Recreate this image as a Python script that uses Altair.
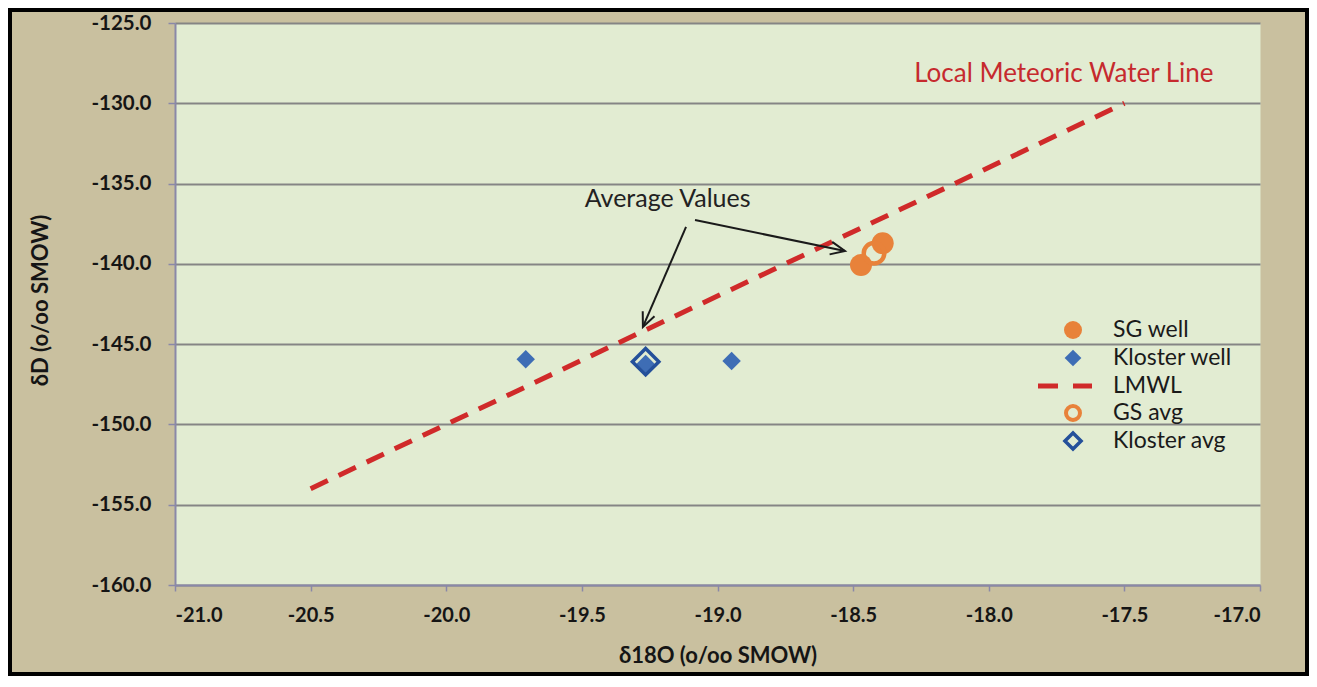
import math
import altair as alt
import pandas as pd

# ---------------- data ----------------
sg_x = [-18.471, -18.391]
sg_y = [-140.07, -138.72]
kl_x = [-19.707, -19.265, -18.948]
kl_y = [-145.94, -146.24, -146.05]
gs_avg_x = [-18.423]
gs_avg_y = [-139.34]
kl_avg_x = [-19.265]
kl_avg_y = [-146.09]
lmwl_x = [-20.5, -17.5]
lmwl_y = [-154.0, -130.0]

x_ticks = [-21.0, -20.5, -20.0, -19.5, -19.0, -18.5, -18.0, -17.5, -17.0]
y_ticks = [-160.0, -155.0, -150.0, -145.0, -140.0, -135.0, -130.0, -125.0]

legend_labels = ["SG well", "Kloster well", "LMWL", "GS avg", "Kloster avg"]

# annotation arrows (data coords): start -> tip
arr_x0 = [-19.116, -19.083]
arr_y0 = [-137.70, -137.27]
arr_x1 = [-19.275, -18.530]
arr_y1 = [-143.93, -139.20]
avg_text = "Average Values"
avg_text_x = [-19.184]
avg_text_y = [-135.96]
lmwl_text = "Local Meteoric Water Line"
lmwl_text_x = [-17.723]
lmwl_text_y = [-128.15]

# ---------------- layout / style ----------------
W, H = 1085, 562
PAD = {"left": 167, "top": 15, "right": 49, "bottom": 91}
FONT = "Lato"
ORANGE = "#E8823A"
BLUE = "#3E6DB5"
DBLUE = "#24509A"
RED = "#D02A2A"
XDOM = [-21, -17]
YDOM = [-160, -125]

xs = alt.Scale(domain=XDOM, nice=False, zero=False)
ys = alt.Scale(domain=YDOM, nice=False, zero=False)

HYPHEN = "replace(datum.label, '\u2212', '-')"

x_axis = alt.Axis(values=x_ticks, format=".1f", labelExpr=HYPHEN, grid=False,
                  title="δ18O (o/oo SMOW)",
                  labelFontSize=20, labelFontWeight="bold", labelColor="#151515",
                  labelPadding=14, tickSize=6, tickColor="#8a88a8", tickWidth=1.5,
                  domainColor="#8a88a8", domainWidth=2,
                  titleFontSize=22, titleFontWeight="bold", titleColor="#151515",
                  titleY=70, titleBaseline="middle")
y_axis = alt.Axis(values=y_ticks, format=".1f", labelExpr=HYPHEN, grid=True,
                  gridColor="#858585", gridWidth=2,
                  title="δD (o/oo SMOW)",
                  labelFontSize=20.5, labelFontWeight="bold", labelColor="#151515",
                  labelPadding=17, tickSize=7, tickColor="#8a88a8", tickWidth=1.5,
                  domainColor="#8a88a8", domainWidth=2,
                  titleFontSize=22, titleFontWeight="bold", titleColor="#151515",
                  titleX=-135, titleY=H / 2 - 4, titleAngle=270, titleAlign="center",
                  titleBaseline="middle")

px_per_x = W / (XDOM[1] - XDOM[0])
px_per_y = H / (YDOM[1] - YDOM[0])

one = pd.DataFrame({"k": [0]})

# border (whole chart)
border = alt.Chart(one).mark_rect(filled=False, stroke="black", strokeWidth=8).encode(
    x=alt.value(-PAD["left"]), x2=alt.value(W + PAD["right"]),
    y=alt.value(-PAD["top"]), y2=alt.value(H + PAD["bottom"]))

lmwl_df = pd.DataFrame({"x": lmwl_x, "y": lmwl_y})
lmwl = alt.Chart(lmwl_df).mark_line(color=RED, strokeWidth=5, strokeDash=[19, 12],
                                    strokeCap="butt").encode(
    x=alt.X("x:Q", scale=xs, axis=x_axis),
    y=alt.Y("y:Q", scale=ys, axis=y_axis))

sg = alt.Chart(pd.DataFrame({"x": sg_x, "y": sg_y})).mark_point(
    shape="circle", filled=True, color=ORANGE, size=484, opacity=1).encode(
    x=alt.X("x:Q", scale=xs), y=alt.Y("y:Q", scale=ys))

kl = alt.Chart(pd.DataFrame({"x": kl_x, "y": kl_y})).mark_point(
    shape="diamond", filled=True, color=BLUE, size=340, opacity=1).encode(
    x=alt.X("x:Q", scale=xs), y=alt.Y("y:Q", scale=ys))

gs_avg = alt.Chart(pd.DataFrame({"x": gs_avg_x, "y": gs_avg_y})).mark_point(
    shape="circle", filled=False, color=ORANGE, strokeWidth=4.5, size=420, opacity=1).encode(
    x=alt.X("x:Q", scale=xs), y=alt.Y("y:Q", scale=ys))

kl_avg = alt.Chart(pd.DataFrame({"x": kl_avg_x, "y": kl_avg_y})).mark_point(
    shape="diamond", filled=False, color=DBLUE, strokeWidth=3.5, size=700, opacity=1).encode(
    x=alt.X("x:Q", scale=xs), y=alt.Y("y:Q", scale=ys))

# arrows
ang = []
for a, b, c, d in zip(arr_x0, arr_y0, arr_x1, arr_y1):
    t = math.degrees(math.atan2(-(d - b) * px_per_y, (c - a) * px_per_x)) % 360
    ang.append(t)
arr_df = pd.DataFrame({"x0": arr_x0, "y0": arr_y0, "x1": arr_x1, "y1": arr_y1, "ang": ang})
arr_lines = alt.Chart(arr_df).mark_rule(color="#1a1a1a", strokeWidth=2).encode(
    x=alt.X("x0:Q", scale=xs), y=alt.Y("y0:Q", scale=ys),
    x2="x1:Q", y2="y1:Q")
arr_heads = alt.Chart(arr_df).mark_point(
    shape="M-0.9,-0.4L0,0L-0.9,0.4", filled=False, color="#1a1a1a", strokeWidth=2,
    size=1024, opacity=1).encode(
    x=alt.X("x1:Q", scale=xs), y=alt.Y("y1:Q", scale=ys),
    angle=alt.Angle("ang:Q", scale=None))

avg_lbl = alt.Chart(pd.DataFrame({"x": avg_text_x, "y": avg_text_y, "t": [avg_text]})).mark_text(
    font=FONT, fontSize=25, color="#222222", align="center", baseline="middle").encode(
    x=alt.X("x:Q", scale=xs), y=alt.Y("y:Q", scale=ys), text="t:N")
lmwl_lbl = alt.Chart(pd.DataFrame({"x": lmwl_text_x, "y": lmwl_text_y, "t": [lmwl_text]})).mark_text(
    font=FONT, fontSize=26, color="#C62A2E", align="center", baseline="middle").encode(
    x=alt.X("x:Q", scale=xs), y=alt.Y("y:Q", scale=ys), text="t:N")

# manual legend
LX, LT = 898, 938
LY = [307, 335, 363, 390, 418]
leg = []
leg.append(alt.Chart(one).mark_point(shape="circle", filled=True, color=ORANGE, size=324, opacity=1)
           .encode(x=alt.value(LX), y=alt.value(LY[0])))
leg.append(alt.Chart(one).mark_point(shape="diamond", filled=True, color=BLUE, size=280, opacity=1)
           .encode(x=alt.value(LX), y=alt.value(LY[1])))
leg.append(alt.Chart(one).mark_rule(color=RED, strokeWidth=5, strokeDash=[20, 15], strokeCap="butt")
           .encode(x=alt.value(LX - 35), x2=alt.value(LX + 19), y=alt.value(LY[2])))
leg.append(alt.Chart(one).mark_point(shape="circle", filled=False, color=ORANGE, size=196,
                                     strokeWidth=4, opacity=1)
           .encode(x=alt.value(LX), y=alt.value(LY[3])))
leg.append(alt.Chart(one).mark_point(shape="diamond", filled=False, color=DBLUE, size=260,
                                     strokeWidth=3.5, opacity=1)
           .encode(x=alt.value(LX), y=alt.value(LY[4])))
for lab, yy in zip(legend_labels, LY):
    leg.append(alt.Chart(pd.DataFrame({"t": [lab]})).mark_text(
        font=FONT, fontSize=23, color="#1a1a1a", align="left", baseline="middle")
        .encode(x=alt.value(LT), y=alt.value(yy), text="t:N"))

chart = alt.layer(lmwl, sg, kl, gs_avg, kl_avg, arr_lines, arr_heads, avg_lbl, lmwl_lbl,
                  *leg, border).properties(
    width=W, height=H,
    autosize=alt.AutoSizeParams(type="none"),
    padding=PAD,
    background="#C9C09F",
).configure_view(
    fill="#E2ECD2", stroke="transparent"
).configure_axis(
    labelFont=FONT, titleFont=FONT
).configure_text(font=FONT)

chart.save("out.html", embed_options={"renderer": "svg", "actions": False})
